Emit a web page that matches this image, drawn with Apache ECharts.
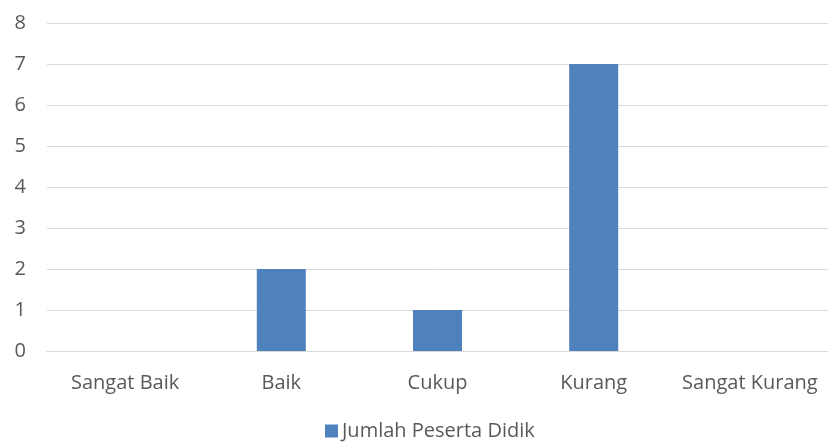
<!DOCTYPE html>
<html>
<head>
<meta charset="utf-8">
<script src="https://cdn.jsdelivr.net/npm/echarts@6/dist/echarts.min.js"></script>
<style>html,body{margin:0;padding:0;background:#fff;}#c{width:828px;height:446px;}</style>
</head>
<body>
<div id="c"></div>
<script>
const categories = ["Sangat Baik", "Baik", "Cukup", "Kurang", "Sangat Kurang"];
const seriesName = "Jumlah Peserta Didik";
const values = [0, 2, 1, 7, 0];
const yTicks = [0, 1, 2, 3, 4, 5, 6, 7, 8];

const chart = echarts.init(document.getElementById('c'), null, {renderer: 'canvas'});
const font = "'Open Sans', 'Liberation Sans', sans-serif";
chart.setOption({
  animation: false,
  backgroundColor: '#ffffff',
  grid: {left: 47, top: 23, width: 788, height: 328, containLabel: false},
  legend: {
    data: [seriesName],
    left: 325, top: 421, padding: 0,
    icon: 'rect', itemWidth: 13, itemHeight: 13, itemGap: 5,
    textStyle: {color: '#595959', fontSize: 20, fontFamily: font, padding: [0,0,0,-1]}
  },
  xAxis: {
    type: 'category', data: categories,
    axisLine: {show: true, lineStyle: {color: '#d9d9d9', width: 1}},
    axisTick: {show: false},
    axisLabel: {color: '#595959', fontSize: 20, fontFamily: font, margin: 22, interval: 0}
  },
  yAxis: {
    type: 'value', min: yTicks[0], max: yTicks[yTicks.length-1], interval: 1,
    axisLine: {show: false}, axisTick: {show: false},
    splitLine: {lineStyle: {color: '#d9d9d9', width: 1}},
    axisLabel: {color: '#595959', fontSize: 20, fontFamily: font, margin: 21}
  },
  series: [{
    name: seriesName, type: 'bar', data: values, barWidth: 49,
    itemStyle: {color: '#4f81bd'}
  }]
});
</script>
</body>
</html>
